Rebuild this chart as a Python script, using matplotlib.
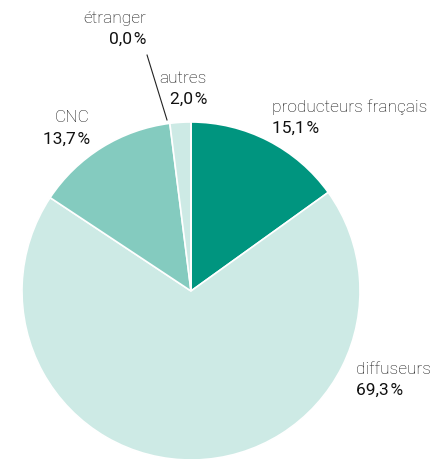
import matplotlib
matplotlib.use("Agg")
import matplotlib.pyplot as plt

# shares of funding, clockwise from the top
labels = ["producteurs français", "diffuseurs", "CNC", "autres", "étranger"]
values = [15.1, 69.3, 13.7, 2.0, 0.0]
colors = ["#00957f", "#cdeae5", "#84cbbf", "#cdeae5", "#cdeae5"]

plt.rcParams['font.family'] = ['Roboto', 'DejaVu Sans']

fig = plt.figure(figsize=(4.34, 4.59), dpi=100)
ax = fig.add_axes([22 / 434, -1 / 459, 338 / 434, 338 / 459])

ax.pie(values, colors=colors, startangle=90, counterclock=False, radius=1,
       wedgeprops=dict(edgecolor="white", linewidth=1.2))
ax.set_xlim(-1, 1)
ax.set_ylim(-1, 1)
ax.set_aspect("equal")
ax.axis("off")

def pct(v):
    return "{:.1f}".format(v).replace(".", ",") + "\u200a%"

# label positions in pie units (radius = 1)
label_pos = {
    "producteurs français": (0.479, 1.089, "left"),
    "diffuseurs": (0.976, -0.462, "left"),
    "CNC": (-0.598, 1.024, "right"),
    "autres": (0.095, 1.26, "right"),
    "étranger": (-0.266, 1.615, "right"),
}
gap = 0.128
for name, v in zip(labels, values):
    x, y, ha = label_pos[name]
    ax.text(x, y, name, ha=ha, va="center", fontsize=12.5, fontweight="light",
            color="#111111", clip_on=False)
    ax.text(x, y - gap, pct(v), ha=ha, va="center", fontsize=12.5,
            fontweight="normal", color="#111111", clip_on=False)

# leader line for the zero slice
ax.plot([-0.260, -0.142], [1.396, 1.012], color="#222222", lw=0.8, clip_on=False)

fig.savefig("out.png", dpi=100)
